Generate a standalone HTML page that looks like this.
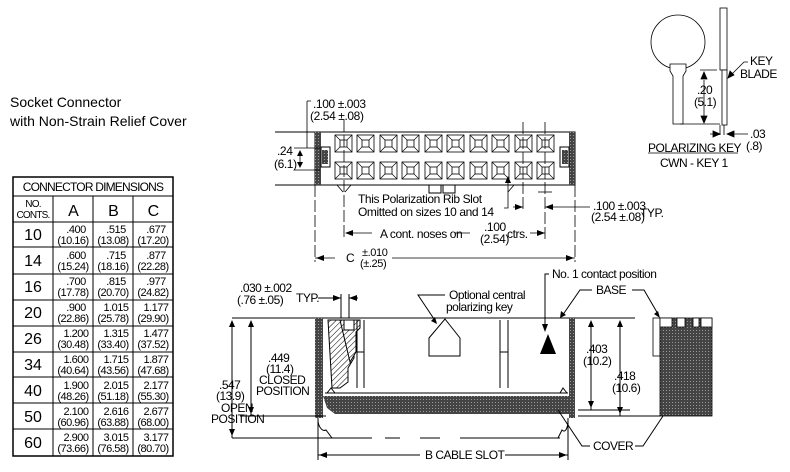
<!DOCTYPE html>
<html><head><meta charset="utf-8"><style>
html,body{margin:0;padding:0;background:#fff;}
svg{display:block;font-family:"Liberation Sans",sans-serif;}
text{fill:#000;}
</style></head><body>
<svg width="790" height="472" viewBox="0 0 790 472" xmlns="http://www.w3.org/2000/svg">
<defs>
<pattern id="dk" width="3" height="3" patternUnits="userSpaceOnUse"><rect width="3" height="3" fill="#444"/><rect width="1" height="1" fill="#999"/></pattern>
<pattern id="hat" width="4" height="4" patternUnits="userSpaceOnUse" patternTransform="rotate(45)"><rect width="4" height="4" fill="#fff"/><line x1="0" y1="0" x2="0" y2="4" stroke="#000" stroke-width="1"/></pattern>
<g id="cell"><rect x="0" y="0" width="17" height="17" fill="#fff" stroke="#000" stroke-width="0.8"/><rect x="5" y="5" width="7" height="7" fill="none" stroke="#000" stroke-width="0.8"/><path d="M0 0L5 5M17 0L12 5M0 17L5 12M17 17L12 12" stroke="#000" stroke-width="0.7"/></g>
</defs>

<!-- Left titles -->
<text x="10" y="107" font-size="14">Socket Connector</text>
<text x="10" y="126" font-size="14">with Non-Strain Relief Cover</text>

<!-- Table -->
<g stroke="#000" fill="none">
<rect x="13" y="177" width="160" height="279" stroke-width="1.5"/>
<path d="M13 196H173M13 222H173M13 247H173M13 274H173M13 300H173M13 326H173M13 352H173M13 377H173M13 403H173M13 429H173" stroke-width="1"/>
<path d="M53 196V456M93 196V456M133 196V456" stroke-width="1"/>
</g>
<g font-size="12" text-anchor="middle" letter-spacing="-0.8">
<text x="93" y="191">CONNECTOR DIMENSIONS</text>
<text x="33" y="207" font-size="10">NO.</text><text x="33" y="218" font-size="10">CONTS.</text>
<text x="73" y="216" font-size="16">A</text><text x="113" y="216" font-size="16">B</text><text x="153" y="216" font-size="16">C</text>
</g>
<g font-size="16" text-anchor="middle">
<text x="33" y="240">10</text><text x="33" y="266">14</text><text x="33" y="292">16</text><text x="33" y="318">20</text><text x="33" y="344">26</text><text x="33" y="370">34</text><text x="33" y="396">40</text><text x="33" y="422">50</text><text x="33" y="448">60</text>
</g>
<g font-size="11" text-anchor="middle" letter-spacing="-0.5">
<text x="76" y="233">.400</text><text x="73" y="244">(10.16)</text><text x="116" y="233">.515</text><text x="113" y="244">(13.08)</text><text x="156" y="233">.677</text><text x="153" y="244">(17.20)</text>
<text x="76" y="259">.600</text><text x="73" y="270">(15.24)</text><text x="116" y="259">.715</text><text x="113" y="270">(18.16)</text><text x="156" y="259">.877</text><text x="153" y="270">(22.28)</text>
<text x="76" y="285">.700</text><text x="73" y="296">(17.78)</text><text x="116" y="285">.815</text><text x="113" y="296">(20.70)</text><text x="156" y="285">.977</text><text x="153" y="296">(24.82)</text>
<text x="76" y="311">.900</text><text x="73" y="322">(22.86)</text><text x="116" y="311">1.015</text><text x="113" y="322">(25.78)</text><text x="156" y="311">1.177</text><text x="153" y="322">(29.90)</text>
<text x="76" y="337">1.200</text><text x="73" y="348">(30.48)</text><text x="116" y="337">1.315</text><text x="113" y="348">(33.40)</text><text x="156" y="337">1.477</text><text x="153" y="348">(37.52)</text>
<text x="76" y="363">1.600</text><text x="73" y="374">(40.64)</text><text x="116" y="363">1.715</text><text x="113" y="374">(43.56)</text><text x="156" y="363">1.877</text><text x="153" y="374">(47.68)</text>
<text x="76" y="389">1.900</text><text x="73" y="400">(48.26)</text><text x="116" y="389">2.015</text><text x="113" y="400">(51.18)</text><text x="156" y="389">2.177</text><text x="153" y="400">(55.30)</text>
<text x="76" y="415">2.100</text><text x="73" y="426">(60.96)</text><text x="116" y="415">2.616</text><text x="113" y="426">(63.88)</text><text x="156" y="415">2.677</text><text x="153" y="426">(68.00)</text>
<text x="76" y="441">2.900</text><text x="73" y="452">(73.66)</text><text x="116" y="441">3.015</text><text x="113" y="452">(76.58)</text><text x="156" y="441">3.177</text><text x="153" y="452">(80.70)</text>
</g>

<!-- Top view -->
<g stroke="#000" fill="none" stroke-width="1">
<rect x="315" y="132" width="260" height="53" fill="#fff"/>
<rect x="315" y="132" width="6" height="53" fill="url(#dk)" stroke="none"/>
<rect x="569" y="132" width="6" height="53" fill="url(#dk)" stroke="none"/>
<rect x="321" y="147" width="9" height="20"/><rect x="322" y="150" width="6" height="14" fill="url(#dk)" stroke="none"/>
<rect x="560" y="147" width="9" height="20"/><rect x="562" y="150" width="6" height="14" fill="url(#dk)" stroke="none"/>
<rect x="429" y="185" width="12" height="8"/><rect x="443" y="185" width="12" height="8"/>
<path d="M275 132H315M275 185H315"/>
</g>
<g>
<use href="#cell" x="335" y="135"/><use href="#cell" x="357" y="135"/><use href="#cell" x="380" y="135"/><use href="#cell" x="402" y="135"/><use href="#cell" x="425" y="135"/><use href="#cell" x="447" y="135"/><use href="#cell" x="470" y="135"/><use href="#cell" x="492" y="135"/><use href="#cell" x="515" y="135"/><use href="#cell" x="537" y="135"/>
<use href="#cell" x="335" y="162"/><use href="#cell" x="357" y="162"/><use href="#cell" x="380" y="162"/><use href="#cell" x="402" y="162"/><use href="#cell" x="425" y="162"/><use href="#cell" x="447" y="162"/><use href="#cell" x="470" y="162"/><use href="#cell" x="492" y="162"/><use href="#cell" x="515" y="162"/><use href="#cell" x="537" y="162"/>
</g>
<g stroke="#000" fill="none" stroke-width="0.8">
<path d="M344 120V240M523 122V212M545 122V240M315 185V262M575 185V262" stroke-dasharray="12,3"/>
<path d="M337 185l6 7M351 185l-6 7M514 185l-6 7"/>
<path d="M538 192h14"/>
<path d="M307 101h4M307 101V148M294 148h26M294 170h26"/>
<path d="M300 152V166"/>
<path d="M508 180V208h-4"/>
<!-- A -->
<path d="M346 233H372M455 233H470M530 233H545"/>
<!-- C -->
<path d="M315 258H335M392 258H575"/>
<!-- .100 typ -->
<path d="M513 207H523M545 207H590"/>
</g>
<g fill="#000">
<path d="M300 150l-3 6h6zM300 168l-3-6h6z"/>
<path d="M508 176l-3 7h6z"/>
<path d="M345 233l8-3v6zM545 233l-8-3v6z"/>
<path d="M316 258l8-3v6zM574 258l-8-3v6z"/>
<path d="M523 207l-8-3v6zM545 207l8-3v6z"/>
</g>
<g font-size="12" letter-spacing="-0.4">
<text x="313" y="108">.100 ±.003</text><text x="310" y="120">(2.54 ±.08)</text>
<text x="277" y="155">.24</text><text x="274" y="168">(6.1)</text>
<text x="358" y="203">This Polarization Rib Slot</text>
<text x="358" y="216">Omitted on sizes 10 and 14</text>
<text x="380" y="238">A   cont. noses on</text><text x="484" y="231">.100</text><text x="480" y="243">(2.54)</text><text x="507" y="238">ctrs.</text>
<text x="346" y="262">C</text><text x="362" y="256" font-size="11">±.010</text><text x="360" y="267" font-size="11">(±.25)</text>
<text x="593" y="210">.100 ±.003</text><text x="591" y="221">(2.54 ±.08)</text><text x="640" y="217">TYP.</text>
</g>

<!-- Polarizing key -->
<g stroke="#000" fill="#fff" stroke-width="0.8">
<circle cx="678" cy="42" r="27"/>
<path d="M670 64h16v7l-3 5V124h-10V76l-3-5z"/>
<rect x="720" y="8" width="7" height="62"/>
<rect x="722" y="70" width="5" height="55"/>
<path d="M680 124H720M700 70H717M724 125V135M720 125V135" fill="none"/>
<path d="M704 80V120" fill="none"/><path d="M704 72l-3 7h6zM704 123l-3-7h6z" fill="#000"/>
<path d="M710 134h10M748 134h-20" fill="none"/><path d="M720 134l-7-3v6zM727 134l7-3v6z" fill="#000"/>
<path d="M748 62h-4l-14 14" fill="none"/><path d="M728 78l2-7 4 4z" fill="#000"/>
<path d="M648 153H738" fill="none"/>
</g>
<g font-size="12" letter-spacing="-0.5">
<text x="750" y="65">KEY</text><text x="740" y="78">BLADE</text>
<text x="697" y="94">.20</text><text x="694" y="106">(5.1)</text>
<text x="750" y="138">.03</text><text x="746" y="150">(.8)</text>
<text x="648" y="152">POLARIZING KEY</text>
<text x="660" y="167">CWN - KEY 1</text>
</g>

<!-- Front view -->
<g stroke="#000" fill="none" stroke-width="1">
<path d="M232 318H635"/>
<rect x="315" y="318" width="8" height="100" fill="url(#dk)" stroke="none"/>
<rect x="569" y="318" width="6" height="100" fill="url(#dk)" stroke="none"/>
<path d="M325 393H568"/>
<path d="M323 396h246v18H335l-8-6z" fill="url(#dk)" stroke="none"/>
<path d="M327 393l4-5 4 5M560 393l3-5 4 5"/>
<path d="M328 320h18l8 8v30l-6 10v14l-8 6h-8z" fill="url(#hat)"/>
<path d="M340 320h20v8l-4 4v20l-6 10z" fill="url(#hat)"/>
<rect x="344" y="320" width="10" height="10" fill="#fff"/>
<path d="M341 318v-24M349 318v-24M357 320V388M364 320V388M500 320V388M508 320V388"/>
<path d="M357 352h7M500 352h8"/>
<path d="M429 338l16-19 15 19v18h-31z" fill="#fff"/>
<path d="M540 354l8-20 8 20z" fill="#000" stroke="none"/>
<path d="M318 418V460M568 418V460"/>
<path d="M240 416H326M578 410H630M578 416H660"/>
<path d="M318 420c0 6 4 12 8 10l6 8h40M568 420c0 6-2 14-6 10l-4 8h-48"/>
<path d="M232 438H372M385 438H400M420 438H440M460 438H560"/>
<path d="M232 324V438M251 324V416M591 324V410M620 324V416"/>
<!-- TYP -->
<path d="M318 298H341M349 298H358"/>
<!-- B -->
<path d="M318 455H420M505 455H568"/>
<!-- leaders -->
<path d="M445 295H418L436 322"/>
<path d="M549 274h-4V330"/>
<path d="M592 290h-12L562 316"/>
<path d="M632 290h12l14 24"/>
<path d="M590 446h-8l-24-36M635 446h8l20-30"/>
</g>
<g fill="#000">
<path d="M232 320l-3 7h6zM232 436l-3-7h6zM251 320l-3 7h6zM251 414l-3-7h6zM591 320l-3 7h6zM591 408l-3-7h6zM620 320l-3 7h6zM620 414l-3-7h6z"/>
<path d="M341 298l-8-3v6zM349 298l8-3v6z"/>
<path d="M319 455l8-3v6zM567 455l-8-3v6z"/>
<path d="M437 324l-6-3 4-4z"/>
<path d="M545 332l-3-8h6z"/>
<path d="M560 318l1-7 5 4z"/>
<path d="M660 318l-6-4 4-3z"/>
</g>
<!-- side view -->
<g stroke="#000" fill="#fff" stroke-width="0.8">
<rect x="653" y="318" width="7" height="38"/>
<rect x="660" y="318" width="52" height="98" fill="url(#dk)"/>
<rect x="660" y="318" width="12" height="9"/><rect x="677" y="318" width="8" height="9"/><rect x="693" y="318" width="6" height="9"/><rect x="701" y="318" width="11" height="9"/>
</g>
<g font-size="12" letter-spacing="-0.5">
<text x="240" y="292">.030 ±.002</text><text x="237" y="304">(.76 ±.05)</text><text x="296" y="302">TYP.</text>
<text x="449" y="299">Optional central</text><text x="446" y="311">polarizing key</text>
<text x="552" y="278">No. 1 contact position</text>
<text x="596" y="294">BASE</text>
<text x="268" y="362">.449</text><text x="266" y="373">(11.4)</text><text x="259" y="384">CLOSED</text><text x="256" y="395">POSITION</text>
<text x="219" y="389">.547</text><text x="216" y="400">(13.9)</text><text x="221" y="412">OPEN</text><text x="211" y="423">POSITION</text>
<text x="586" y="353">.403</text><text x="583" y="365">(10.2)</text>
<text x="614" y="380">.418</text><text x="612" y="392">(10.6)</text>
<text x="593" y="450">COVER</text>
<text x="425" y="459">B   CABLE SLOT</text>
</g>
</svg>
</body></html>
